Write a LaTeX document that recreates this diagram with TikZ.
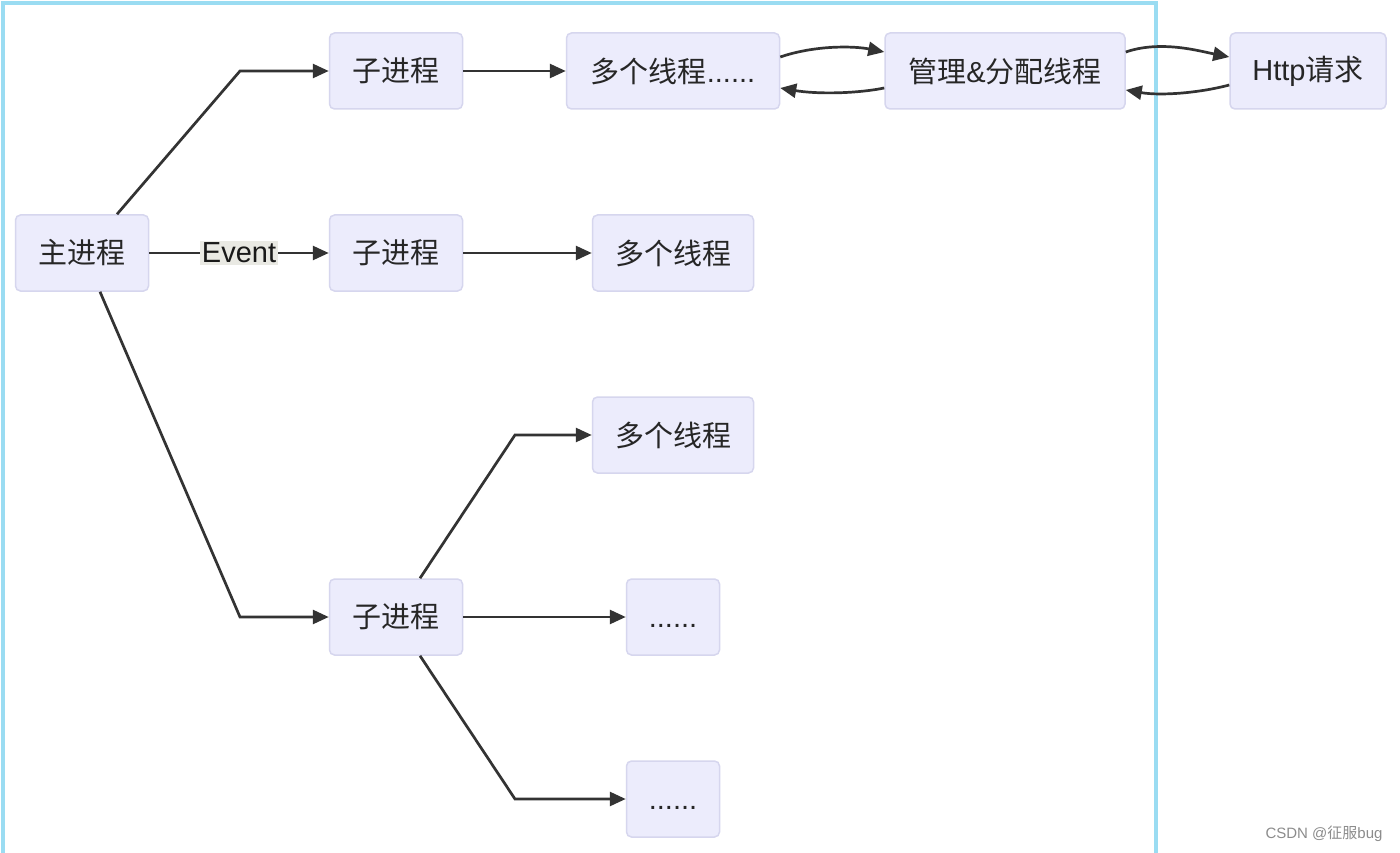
\documentclass[tikz,border=0pt]{standalone}
\usepackage{fontspec}
\setmainfont{Liberation Sans}
\newfontfamily\cjk{Noto Sans CJK SC}
\usetikzlibrary{arrows.meta}
\definecolor{nodefill}{HTML}{ECECFC}
\definecolor{nodeline}{HTML}{D6D6EE}
\definecolor{edgecol}{HTML}{333333}
\definecolor{framecol}{HTML}{9ADCF2}
\definecolor{lblbg}{HTML}{E9E9E3}
\begin{document}
\begin{tikzpicture}[x=1pt,y=-1pt,
  box/.style={draw=nodeline, line width=1.5pt, fill=nodefill, rounded corners=5pt,
    minimum height=76pt, inner sep=0pt, font=\fontsize{29}{34}\selectfont, text=black!85},
  arr/.style={draw=edgecol, line width=2.7pt, -{Triangle[length=16pt,width=14pt]}},
  lbl/.style={fill=lblbg, inner sep=1.5pt, font=\fontsize{29}{34}\selectfont, text=black!90}]
\useasboundingbox (0,0) rectangle (1400,853);
\fill[white] (0,0) rectangle (1400,853);
\draw[framecol, line width=4pt] (3,3) rectangle (1156,856);

\node[box, minimum width=133pt] (main) at (82,253) {{\cjk 主进程}};
\node[box, minimum width=133pt] (c1) at (396,71) {{\cjk 子进程}};
\node[box, minimum width=133pt] (c2) at (396,253) {{\cjk 子进程}};
\node[box, minimum width=133pt] (c3) at (396,617) {{\cjk 子进程}};
\node[box, minimum width=213pt] (t1) at (673,71) {{\cjk 多个线程}......};
\node[box, minimum width=240pt] (mg) at (1005,71) {{\cjk 管理}\&{\cjk 分配线程}};
\node[box, minimum width=156pt] (http) at (1308,71) {Http{\cjk 请求}};
\node[box, minimum width=161pt] (t2) at (673,253) {{\cjk 多个线程}};
\node[box, minimum width=161pt] (t3) at (673,435) {{\cjk 多个线程}};
\node[box, minimum width=93pt] (d1) at (673,617) {\vphantom{\cjk 子}......};
\node[box, minimum width=93pt] (d2) at (673,799) {\vphantom{\cjk 子}......};

\coordinate (k1) at (240,71);
\coordinate (k3) at (240,617);
\coordinate (k4) at (515,435);
\coordinate (k5) at (515,799);

\draw[arr] ([xshift=35pt]main.north) -- (k1) -- (c1.west);
\draw[arr] (main.east) -- node[lbl, pos=0.5] (ev) {Event} (c2.west);
\draw[arr] ([xshift=18pt]main.south) -- (k3) -- (c3.west);

\draw[arr] (c1.east) -- (t1.west);
\draw[arr] (c2.east) -- (t2.west);
\draw[arr] ([xshift=24pt]c3.north) -- (k4) -- (t3.west);
\draw[arr] (c3.east) -- (d1.west);
\draw[arr] ([xshift=24pt]c3.south) -- (k5) -- (d2.west);

\draw[arr] ([yshift=14pt]t1.east) .. controls +(35,-12) and +(-30,-6) .. ([yshift=19pt]mg.west);
\draw[arr] ([yshift=-17pt]mg.west) .. controls +(-30,6) and +(35,6) .. ([yshift=-17pt]t1.east);
\draw[arr] ([yshift=19pt]mg.east) .. controls +(35,-12) and +(-30,-6) .. ([yshift=14pt]http.west);
\draw[arr] ([yshift=-14pt]http.west) .. controls +(-30,8) and +(35,6) .. ([yshift=-19pt]mg.east);

\node[text=black!45, font=\fontsize{15}{18}\selectfont, anchor=east] (wm) at (1386,834) {CSDN @{\cjk 征服}bug};
\end{tikzpicture}
\end{document}
